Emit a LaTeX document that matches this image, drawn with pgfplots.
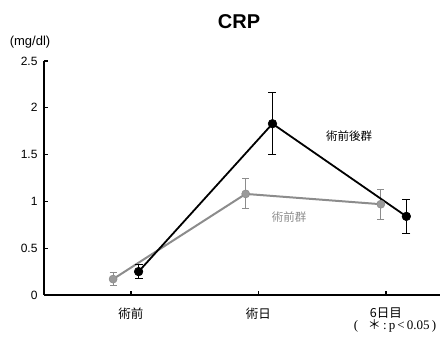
\documentclass[border=0pt]{standalone}
\usepackage{pgfplots}
\pgfplotsset{compat=1.18}
\usepackage{fontspec}
\setmainfont{Liberation Sans}
\newfontfamily\jp{Noto Sans CJK JP}
\newfontfamily\serif{Liberation Serif}

\definecolor{grp}{HTML}{8C8C8C}
\definecolor{grpmark}{HTML}{9A9A9A}

\begin{document}
\begin{tikzpicture}[x=1pt,y=1pt]
\path[use as bounding box] (0,0) rectangle (442,337);
\begin{axis}[
  at={(44pt,42pt)}, anchor=south west,
  scale only axis, width=396pt, height=234pt,
  xmin=-0.682, xmax=2.424, ymin=0, ymax=2.5,
  axis lines*=left,
  x axis line style={line width=1.6pt},
  y axis line style={line width=1.2pt},
  xtick={0,1,2},
  xticklabels={術前,術日,6日目},
  xticklabel style={font=\jp\fontsize{12.5}{14}\selectfont, yshift=-9pt},
  ytick={0,0.5,1,1.5,2,2.5},
  yticklabels={0,0.5,1,1.5,2,2.5},
  yticklabel style={font=\fontsize{12}{14}\selectfont, xshift=-3pt},
  tick align=inside,
  major tick length=4pt,
  tick style={black, line width=1.2pt},
  clip=false,
]
% 術前群 (gray)
\addplot[grp, line width=2pt, mark=*, mark size=4pt,
  mark options={fill=grpmark, draw=grp, line width=0.6pt},
  error bars/.cd, y dir=both, y explicit,
  error bar style={grp, line width=0.9pt},
  error mark options={rotate=90, mark size=3.5pt, grp, line width=0.9pt}]
  coordinates {
  (-0.14,0.17) +- (0,0.07)
  (0.90,1.08) +- (0,0.16)
  (1.96,0.97) +- (0,0.16)
  };
% 術前後群 (black)
\addplot[black, line width=1.8pt, mark=*, mark size=4.3pt,
  mark options={fill=black, line width=0.6pt},
  error bars/.cd, y dir=both, y explicit,
  error bar style={black, line width=1.1pt},
  error mark options={rotate=90, mark size=4pt, black, line width=1.1pt}]
  coordinates {
  (0.06,0.25) +- (0,0.075)
  (1.11,1.83) +- (0,0.33)
  (2.16,0.84) +- (0,0.18)
  };
\end{axis}
\node[font=\bfseries\fontsize{20}{22}\selectfont] at (239,315) {CRP};
\node[font=\fontsize{13}{15}\selectfont] at (30,295) {(mg/dl)};
\node[font=\jp\fontsize{11.5}{13}\selectfont] at (349,201) {術前後群};
\node[font=\jp\fontsize{11.5}{13}\selectfont, text=grp] at (289,120) {術前群};
\node[font=\serif\fontsize{13}{15}\selectfont] at (395,11) {(\ \ \ {\jp ＊}\,:\,p\,<\,0.05\,)};
\end{tikzpicture}
\end{document}
